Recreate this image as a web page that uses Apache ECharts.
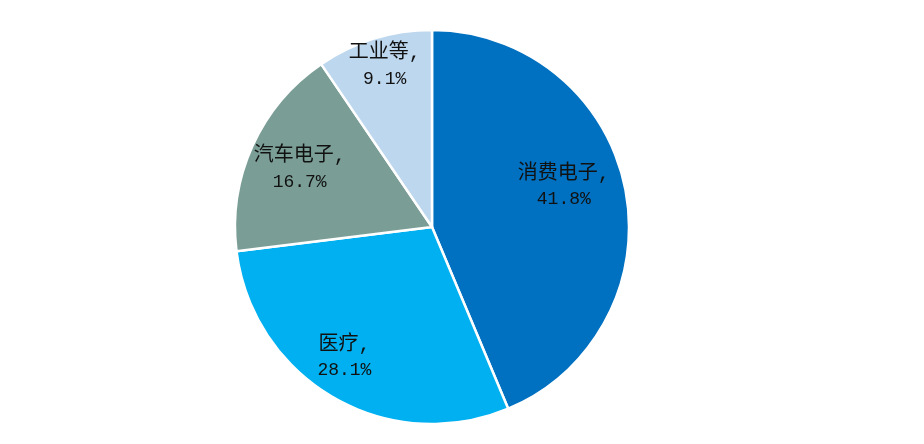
<!DOCTYPE html>
<html>
<head>
<meta charset="utf-8">
<script src="https://cdn.jsdelivr.net/npm/echarts@6/dist/echarts.min.js"></script>
<style>
  html, body { margin: 0; padding: 0; background: #fff; }
  #chart { width: 924px; height: 444px; }
</style>
</head>
<body>
<div id="chart"></div>
<script>
  // 数据
  var names = ['消费电子', '医疗', '汽车电子', '工业等'];
  var values = [41.8, 28.1, 16.7, 9.1];
  var colors = ['#0070C0', '#00B0F0', '#7A9E96', '#BDD7EE'];
  // 标签微调偏移（样式）
  var labelOffsets = [[-16, -11], [-12, 0], [5, 4], [-3, -17]];

  var pieData = [];
  var labelData = [];
  for (var i = 0; i < names.length; i++) {
    pieData.push({ name: names[i], value: values[i], itemStyle: { color: colors[i] } });
    labelData.push({ name: names[i], value: values[i], label: { offset: labelOffsets[i] } });
  }

  var center = [432, 227];
  var R = 197;
  var fontFam = '"Liberation Mono", "Noto Sans CJK SC", monospace';

  var option = {
    animation: false,
    series: [
      {
        type: 'pie',
        center: center,
        radius: [0, R],
        startAngle: 90,
        clockwise: true,
        label: { show: false },
        labelLine: { show: false },
        itemStyle: { borderColor: '#fff', borderWidth: 2.5 },
        data: pieData
      },
      {
        // 透明环，只用来放标签
        type: 'pie',
        center: center,
        radius: [R * 0.5, R],
        startAngle: 90,
        clockwise: true,
        silent: true,
        itemStyle: { color: 'rgba(0,0,0,0)' },
        label: {
          show: true,
          position: 'inside',
          formatter: '{n|{b},}\n{v|{c}%}',
          rich: {
            n: { fontSize: 20, lineHeight: 26, color: '#111', fontFamily: fontFam },
            v: { fontSize: 18, lineHeight: 26, color: '#111', fontFamily: fontFam }
          }
        },
        labelLine: { show: false },
        data: labelData
      }
    ]
  };

  var chartObj = echarts.init(document.getElementById('chart'));
  chartObj.setOption(option, true);
</script>
</body>
</html>
